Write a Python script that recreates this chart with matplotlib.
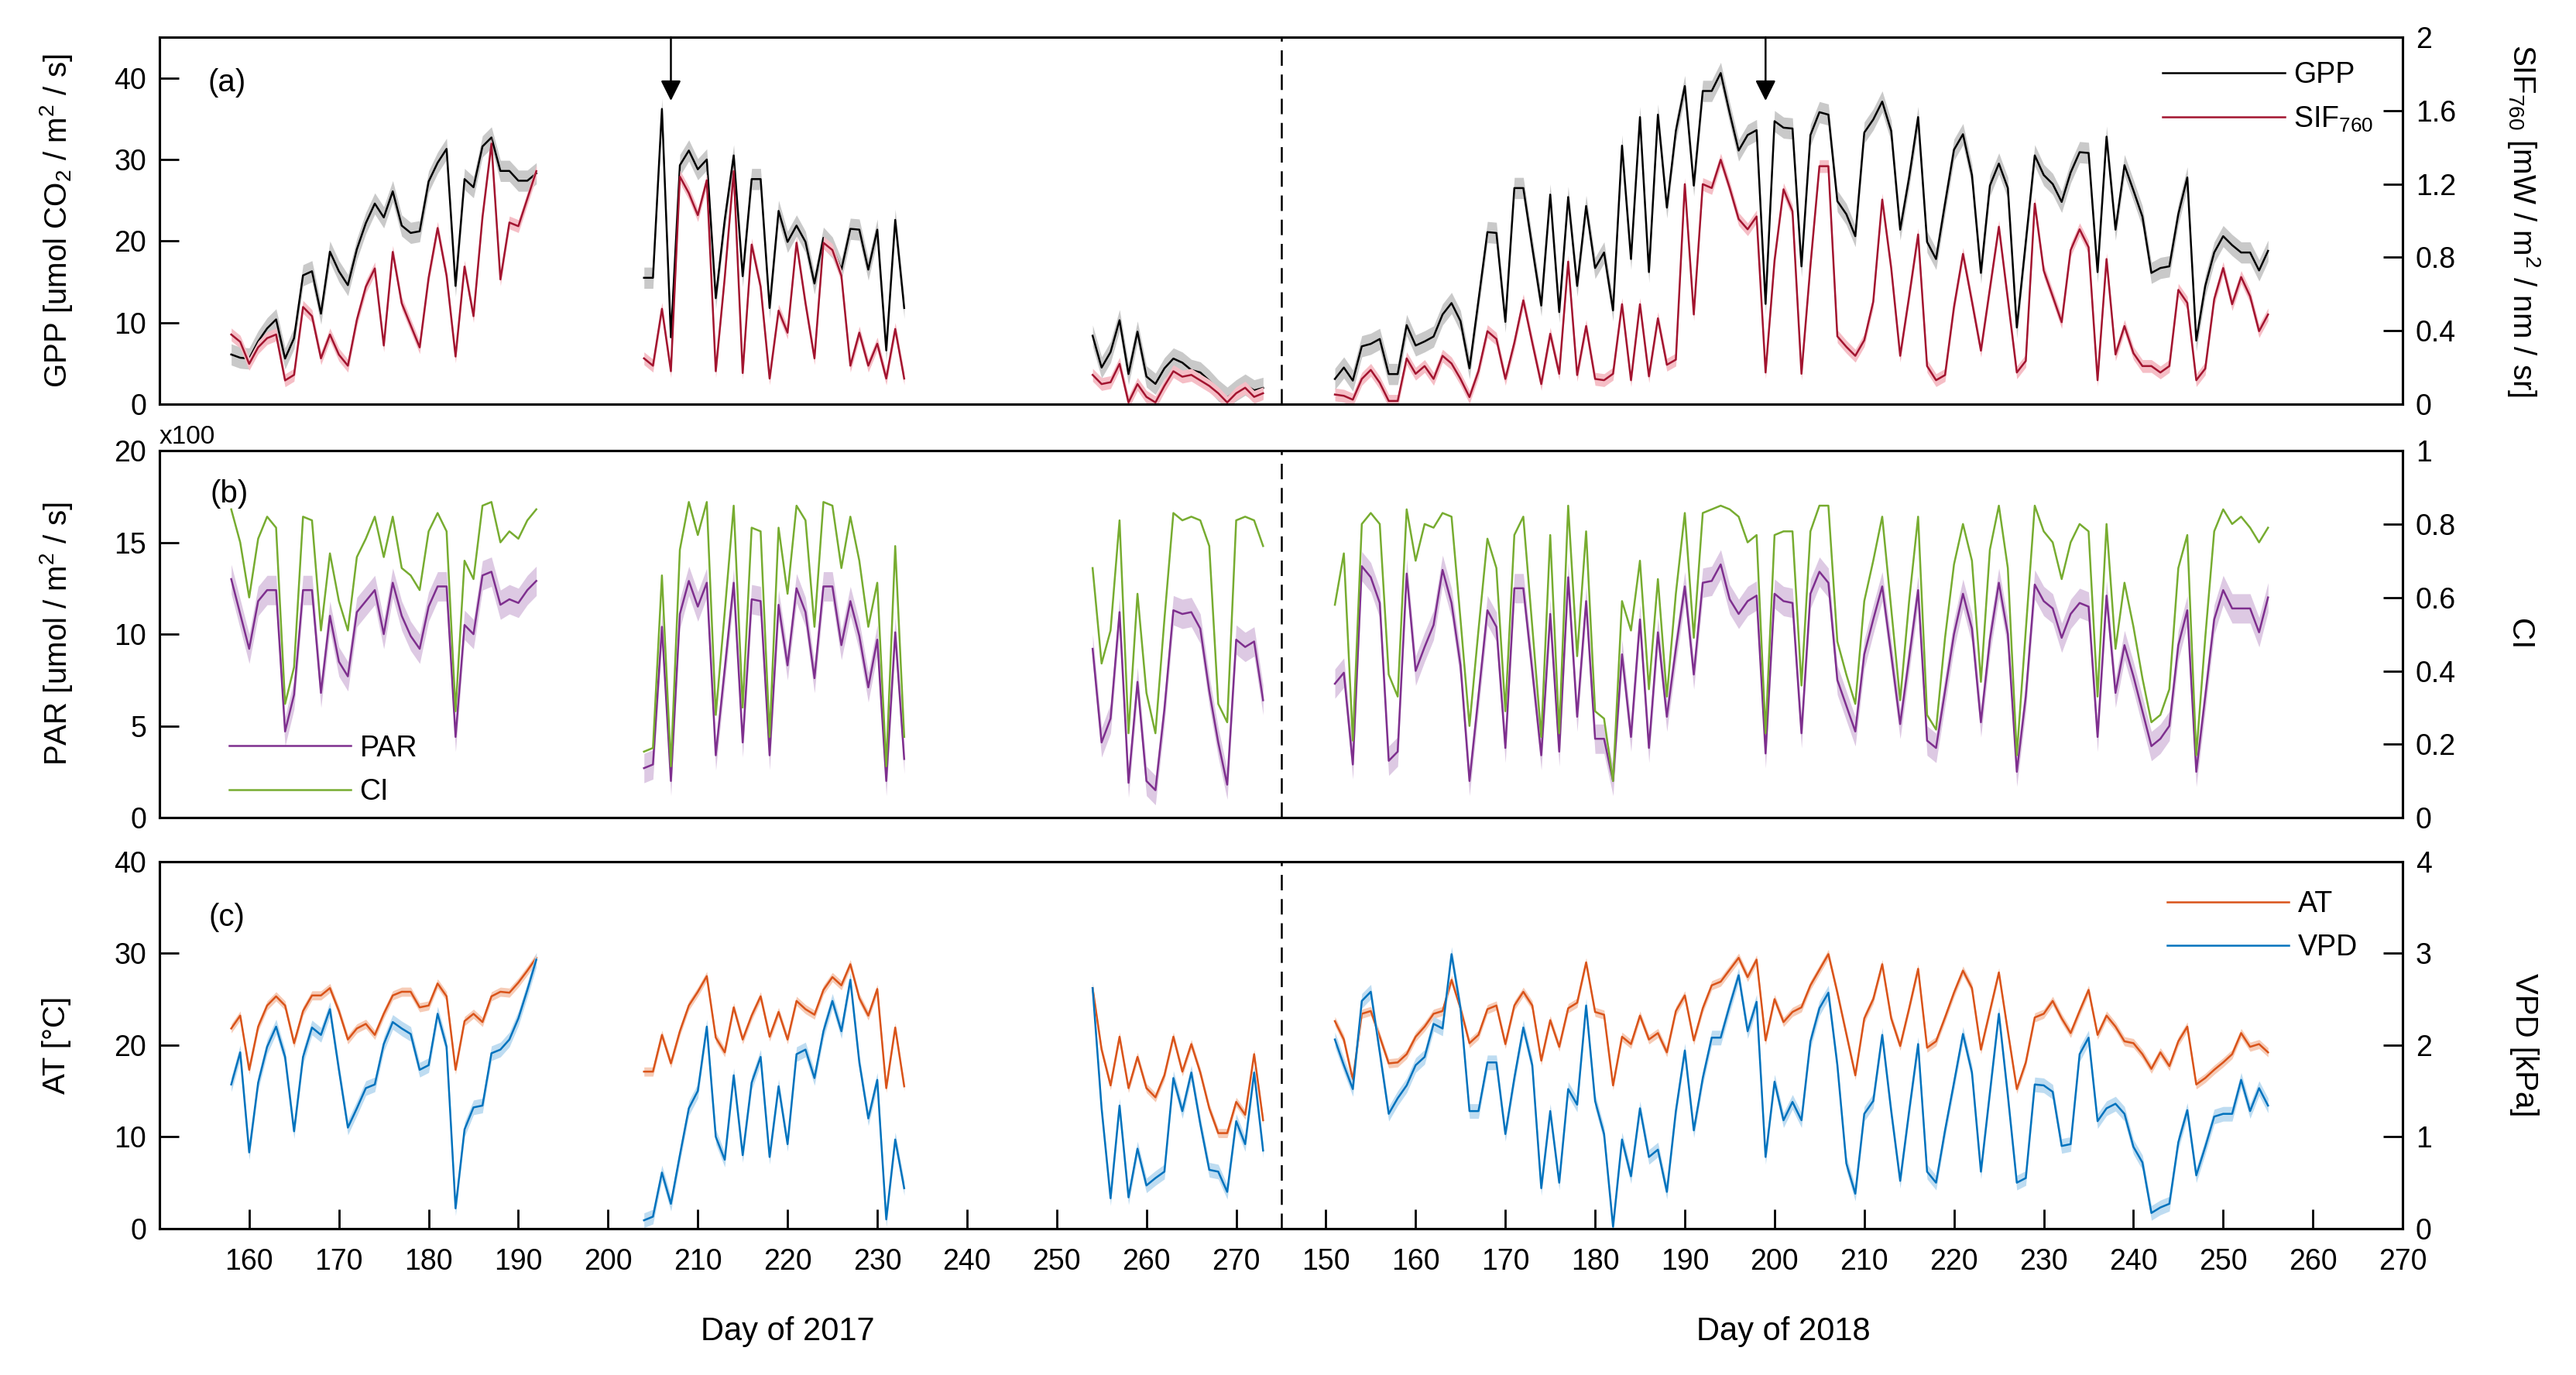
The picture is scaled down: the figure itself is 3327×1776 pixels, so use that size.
import numpy as np
import matplotlib
matplotlib.use("Agg")
import matplotlib.pyplot as plt
from matplotlib.ticker import FormatStrFormatter

plt.rcParams['font.family'] = ['Liberation Sans', 'DejaVu Sans']
plt.rcParams['mathtext.default'] = 'regular'
plt.rcParams['font.size'] = 13

# first day of each block of measurements
starts_2017 = [158, 204, 254]
start_2018 = 151
offset_2018 = 130      # 2018 days are shifted right so both seasons share one axis
year_break = 275
arrow_days = [207, 199 + offset_2018]
arrow_tip = 37.2

# (a) GPP [umol CO2/m2/s] and SIF760 [mW/m2/nm/sr]
gpp_2017 = [
    [6.1, 5.7, 5.6, 7.7, 9.3, 10.4, 5.6, 8.1, 15.8, 16.3, 11.1, 18.7, 16.3, 14.6, 19.0, 22.2, 24.6, 22.9,
     26.1, 21.9, 21.0, 21.2, 27.3, 29.6, 31.3, 14.5, 27.6, 26.6, 31.6, 32.7, 28.6, 28.6, 27.4, 27.4, 28.3],
    [15.5, 15.5, 36.2, 8.2, 29.3, 31.1, 28.8, 30.0, 13.0, 22.6, 30.5, 15.7, 27.6, 27.6, 11.8, 23.7, 19.9,
     21.9, 19.9, 14.8, 20.4, 19.2, 16.5, 21.5, 21.4, 16.5, 21.4, 6.6, 22.6, 11.8],
    [8.4, 4.5, 6.4, 10.3, 3.7, 8.9, 3.4, 2.5, 4.4, 5.6, 5.1, 4.2, 3.9, 2.9, 1.7, 0.8, 1.7, 2.4, 1.7, 2.0],
]
gpp_2018 = [3.1, 4.5, 2.9, 7.1, 7.4, 8.0, 3.7, 3.7, 9.7, 7.2,
            7.7, 8.3, 11.0, 12.4, 10.2, 4.4, 12.7, 21.1, 21.0, 10.1,
            26.5, 26.5, 19.2, 12.1, 25.7, 11.3, 25.4, 14.5, 24.3, 16.7,
            18.6, 11.5, 31.7, 17.8, 35.2, 16.2, 35.5, 24.1, 33.5, 39.0,
            26.8, 38.4, 38.4, 40.6, 35.7, 31.1, 33.0, 33.6, 12.3, 34.7,
            33.9, 33.8, 16.9, 33.0, 35.8, 35.5, 24.9, 23.3, 20.6, 33.3,
            34.9, 37.1, 33.5, 21.4, 27.8, 35.2,
            19.9, 17.8, 24.6, 31.2, 33.1, 28.1, 16.1, 26.8, 29.5, 26.5,
            9.4, 19.9, 30.5, 28.1, 27.0, 24.8, 28.4, 30.9, 30.8, 16.2,
            32.8, 21.4, 29.3, 26.2, 23.0, 16.1, 16.7, 16.9, 23.3, 27.8,
            7.8, 14.5, 18.6, 20.6, 19.5, 18.6, 18.6, 16.4, 18.8]
sif_2017 = [
    [0.38, 0.34, 0.22, 0.31, 0.36, 0.38, 0.13, 0.16, 0.53, 0.48, 0.25, 0.38, 0.27, 0.21, 0.46, 0.64, 0.74,
     0.32, 0.83, 0.55, 0.43, 0.31, 0.69, 0.96, 0.70, 0.26, 0.75, 0.48, 1.02, 1.42, 0.68, 0.99, 0.97, 1.12, 1.27],
    [0.25, 0.21, 0.52, 0.18, 1.24, 1.15, 1.03, 1.22, 0.18, 0.69, 1.27, 0.17, 0.87, 0.64, 0.14, 0.51, 0.39,
     0.88, 0.55, 0.25, 0.88, 0.84, 0.70, 0.21, 0.39, 0.21, 0.33, 0.14, 0.41, 0.14],
    [0.16, 0.11, 0.12, 0.22, 0.01, 0.11, 0.04, 0.01, 0.10, 0.18, 0.15, 0.16, 0.13, 0.10, 0.06, 0.01, 0.06,
     0.09, 0.04, 0.06],
]
sif_2018 = [0.053, 0.046, 0.025, 0.138, 0.187, 0.117, 0.018, 0.018, 0.250, 0.166,
            0.208, 0.138, 0.264, 0.222, 0.138, 0.039, 0.180, 0.398, 0.356, 0.138,
            0.335, 0.566, 0.335, 0.110, 0.384, 0.166, 0.777, 0.159, 0.426, 0.138,
            0.131, 0.166, 0.545, 0.131, 0.545, 0.152, 0.468, 0.215, 0.243, 1.199,
            0.489, 1.199, 1.178, 1.332, 1.178, 1.009, 0.953, 1.023, 0.173, 0.784,
            1.171, 1.051, 0.166, 0.756, 1.297, 1.297, 0.370, 0.313, 0.264, 0.349,
            0.559, 1.115, 0.742, 0.264, 0.588, 0.925,
            0.208, 0.131, 0.159, 0.531, 0.819, 0.559, 0.292, 0.630, 0.967, 0.573,
            0.173, 0.236, 1.093, 0.728, 0.588, 0.447, 0.840, 0.953, 0.855, 0.131,
            0.791, 0.271, 0.426, 0.278, 0.208, 0.208, 0.173, 0.208, 0.623, 0.552,
            0.131, 0.194, 0.573, 0.742, 0.545, 0.693, 0.588, 0.398, 0.489]

# (b) PAR [x100 umol/m2/s] and CI
par_2017 = [
    [13.0, 11.1, 9.2, 11.8, 12.4, 12.4, 4.7, 6.7, 12.4, 12.4, 6.8, 11.0, 8.5, 7.7, 11.2, 11.8, 12.4, 10.0,
     12.8, 11.0, 9.9, 9.2, 11.5, 12.6, 12.6, 4.4, 10.5, 10.0, 13.2, 13.4, 11.6, 11.9, 11.7, 12.4, 12.9],
    [2.7, 2.9, 10.4, 2.0, 11.1, 12.9, 11.5, 12.8, 3.4, 8.1, 12.8, 4.1, 11.9, 11.8, 3.4, 11.6, 8.3, 12.5,
     11.2, 7.6, 12.6, 12.6, 9.4, 11.8, 9.9, 7.1, 9.7, 2.0, 10.1, 3.2],
    [9.2, 4.1, 5.4, 11.2, 1.9, 7.4, 2.0, 1.5, 5.9, 11.3, 11.1, 11.2, 10.3, 6.9, 4.1, 1.8, 9.7, 9.3, 9.6, 6.4],
]
par_2018 = [7.3, 7.9, 2.9, 13.7, 13.1, 11.7, 3.1, 3.6, 13.3, 8.0,
            9.3, 10.5, 13.5, 11.7, 8.3, 2.0, 6.6, 11.3, 10.4, 3.8,
            12.5, 12.5, 8.0, 3.4, 11.1, 3.6, 13.1, 5.5, 11.8, 4.3,
            4.3, 2.0, 8.9, 4.4, 10.8, 3.8, 10.1, 5.5, 9.2, 12.6,
            7.8, 12.8, 12.9, 13.8, 11.9, 11.1, 11.8, 12.1, 3.5, 12.2,
            11.8, 11.7, 4.6, 12.2, 13.4, 12.8, 7.5, 6.1, 4.7, 8.9,
            10.8, 12.6, 8.9, 5.1,
            8.7, 12.4, 4.2, 3.8, 6.9, 10.0, 12.2, 10.3, 5.2, 9.7,
            12.8, 10.0, 2.5, 6.6, 12.7, 11.8, 11.4, 9.8, 11.1, 11.7,
            11.5, 4.4, 12.1, 6.8, 9.4, 7.7, 5.8, 3.9, 4.3, 5.0,
            9.4, 11.3, 2.5, 6.6, 10.8, 12.4, 11.4, 11.4, 11.4, 10.1,
            12.0]
ci_2017 = [
    [0.84, 0.75, 0.60, 0.76, 0.82, 0.79, 0.31, 0.41, 0.82, 0.81, 0.51, 0.72, 0.59, 0.51, 0.71, 0.76, 0.82,
     0.71, 0.82, 0.68, 0.66, 0.62, 0.78, 0.83, 0.78, 0.29, 0.70, 0.65, 0.85, 0.86, 0.75, 0.78, 0.76, 0.81, 0.84],
    [0.18, 0.19, 0.66, 0.14, 0.73, 0.86, 0.77, 0.86, 0.28, 0.56, 0.85, 0.30, 0.79, 0.78, 0.22, 0.79, 0.61,
     0.85, 0.81, 0.52, 0.86, 0.85, 0.68, 0.82, 0.70, 0.52, 0.64, 0.14, 0.74, 0.22],
    [0.68, 0.42, 0.51, 0.81, 0.23, 0.61, 0.34, 0.23, 0.54, 0.83, 0.81, 0.82, 0.81, 0.74, 0.31, 0.26, 0.81,
     0.82, 0.81, 0.74],
]
ci_2018 = [0.58, 0.72, 0.21, 0.80, 0.83, 0.80, 0.39, 0.33, 0.84, 0.70,
           0.80, 0.79, 0.83, 0.82, 0.54, 0.25, 0.51, 0.76, 0.68, 0.29,
           0.77, 0.82, 0.52, 0.22, 0.77, 0.23, 0.85, 0.44, 0.78, 0.29,
           0.27, 0.10, 0.59, 0.51, 0.70, 0.35, 0.65, 0.33, 0.61, 0.83,
           0.49, 0.83, 0.84, 0.85, 0.84, 0.82, 0.75, 0.77, 0.23, 0.77,
           0.78, 0.78, 0.36, 0.78, 0.85, 0.85, 0.48, 0.39, 0.31, 0.59,
           0.70, 0.82, 0.57, 0.32,
           0.59, 0.82, 0.28, 0.24, 0.49, 0.69, 0.80, 0.70, 0.37, 0.73,
           0.85, 0.68, 0.17, 0.51, 0.85, 0.78, 0.75, 0.65, 0.75, 0.80,
           0.78, 0.33, 0.80, 0.46, 0.64, 0.52, 0.38, 0.26, 0.28, 0.35,
           0.68, 0.77, 0.17, 0.49, 0.78, 0.84, 0.80, 0.82, 0.79, 0.75,
           0.79]

# (c) air temperature [C] and VPD [kPa]
at_2017 = [
    [21.8, 23.2, 17.3, 22.0, 24.3, 25.3, 24.3, 20.2, 23.7, 25.4, 25.4, 26.2, 23.7, 20.6, 21.8, 22.3, 21.1,
     23.4, 25.4, 25.8, 25.8, 24.1, 24.3, 26.7, 25.3, 17.3, 22.6, 23.4, 22.5, 25.3, 25.8, 25.7, 26.8, 28.1, 29.5],
    [17.1, 17.1, 21.1, 18.0, 21.5, 24.3, 25.8, 27.5, 20.8, 19.2, 24.1, 20.6, 23.2, 25.3, 20.9, 23.6, 20.6,
     24.8, 23.9, 23.3, 26.0, 27.4, 26.5, 28.8, 25.1, 23.2, 26.1, 15.3, 21.9, 15.5],
    [26.2, 19.5, 15.6, 20.9, 15.3, 18.7, 15.3, 14.3, 16.7, 20.9, 17.1, 20.1, 17.0, 13.1, 10.4, 10.4, 13.8,
     12.4, 19.0, 11.8],
]
at_2018 = [22.6, 20.6, 16.2, 23.4, 23.7, 20.9, 18.0, 18.1, 19.0, 20.9,
           22.0, 23.4, 23.7, 27.1, 24.0, 20.2, 21.1, 23.9, 24.3, 20.1,
           24.3, 25.8, 24.3, 18.3, 22.7, 19.8, 24.0, 24.6, 29.0, 23.6,
           23.3, 15.6, 20.9, 20.1, 23.2, 20.6, 21.3, 19.2, 23.7, 25.4,
           20.5, 24.0, 26.5, 26.9, 28.2, 29.5, 27.4, 29.3, 20.5, 25.0,
           22.5, 23.6, 24.1, 26.5, 28.2, 29.9, 25.7, 21.2, 16.7, 22.9,
           25.0, 28.8, 22.9, 19.9, 24.0, 28.3, 19.7, 20.4, 23.0, 25.7,
           28.1, 26.2, 19.5, 23.7, 27.9, 21.5, 15.2, 18.1, 23.0, 23.4,
           24.8, 22.9, 21.3, 23.7, 26.0, 21.1, 23.2, 22.0, 20.4, 20.2,
           19.0, 17.4, 19.2, 17.7, 20.4, 22.0, 15.7, 16.4, 17.3, 18.1,
           19.0, 21.3, 19.8, 20.1, 19.2]
vpd_2017 = [
    [1.57, 1.92, 0.83, 1.59, 1.98, 2.20, 1.87, 1.06, 1.87, 2.19, 2.11, 2.39, 1.73, 1.10, 1.31, 1.53, 1.57,
     2.01, 2.25, 2.18, 2.12, 1.73, 1.78, 2.34, 1.98, 0.22, 1.08, 1.32, 1.34, 1.91, 1.95, 2.06, 2.29, 2.60, 2.93],
    [0.09, 0.13, 0.61, 0.27, 0.80, 1.31, 1.50, 2.20, 1.00, 0.75, 1.67, 0.80, 1.59, 1.87, 0.78, 1.55, 0.92,
     1.90, 1.95, 1.64, 2.15, 2.48, 2.15, 2.71, 1.81, 1.20, 1.62, 0.10, 0.97, 0.44],
    [2.62, 1.31, 0.33, 1.34, 0.34, 0.87, 0.47, 0.55, 0.62, 1.64, 1.28, 1.70, 1.14, 0.64, 0.62, 0.40, 1.17,
     0.92, 1.70, 0.85],
]
vpd_2018 = [2.06, 1.78, 1.52, 2.48, 2.58, 1.92, 1.25, 1.42, 1.56, 1.78,
            1.87, 2.23, 2.18, 2.99, 2.40, 1.28, 1.28, 1.81, 1.81, 1.03,
            1.64, 2.19, 1.78, 0.44, 1.28, 0.50, 1.52, 1.35, 2.43, 1.39,
            1.03, 0.02, 0.97, 0.57, 1.31, 0.78, 0.86, 0.40, 1.28, 1.94,
            1.07, 1.64, 2.08, 2.08, 2.43, 2.76, 2.15, 2.47, 0.78, 1.60,
            1.18, 1.38, 1.18, 2.04, 2.40, 2.57, 1.78, 0.71, 0.38, 1.25,
            1.39, 2.11, 1.28, 0.52, 1.28, 2.01, 0.62, 0.50, 1.07, 1.59,
            2.12, 1.70, 0.62, 1.48, 2.34, 1.45, 0.50, 0.55, 1.57, 1.56,
            1.49, 0.90, 0.92, 1.90, 2.08, 1.17, 1.31, 1.36, 1.25, 0.89,
            0.72, 0.17, 0.23, 0.27, 0.94, 1.29, 0.58, 0.89, 1.22, 1.25,
            1.25, 1.62, 1.28, 1.53, 1.34]

# half width of the shaded spread around each series
gpp_err, sif_err, par_err, at_err, vpd_err = 1.3, 0.035, 0.8, 0.5, 0.08

tick_pos = list(range(160, 271, 10)) + list(range(150 + offset_2018, 271 + offset_2018, 10))
tick_lab = [str(d) for d in range(160, 271, 10)] + [str(d) for d in range(150, 271, 10)]


def segments(v2017, v2018):
    out = [(np.arange(len(v)) + s, np.array(v)) for v, s in zip(v2017, starts_2017)]
    out.append((np.arange(len(v2018)) + start_2018 + offset_2018, np.array(v2018)))
    return out


def draw(ax, v2017, v2018, color, band=None, err=0.0, label=None):
    for x, y in segments(v2017, v2018):
        if band is not None:
            ax.fill_between(x, y - err, y + err, color=band, lw=0)
        line, = ax.plot(x, y, color=color, lw=0.9)
    line.set_label(label)
    return line


def style(ax, ax2, yl, yticks, yl2, yticks2):
    ax.set_xlim(150, 400)
    ax.set_ylim(*yl)
    ax.set_yticks(yticks)
    ax2.set_ylim(*yl2)
    ax2.set_yticks(yticks2)
    ax2.yaxis.set_major_formatter(FormatStrFormatter('%g'))
    for a in (ax, ax2):
        a.tick_params(direction='in', length=9, width=1, labelsize=13.5, pad=6)
        for sp in a.spines.values():
            sp.set_linewidth(1.1)
    ax.tick_params(axis='y', right=False)
    ax.axvline(year_break, color='k', lw=0.9, ls=(0, (8, 4.5)))


fig = plt.figure(figsize=(16.635, 8.88), dpi=200)
left, width, height = 0.0619, 0.8708, 0.267
bottoms = [0.706, 0.4053, 0.1065]
lab_size = 14.5

# ---- (a) ----
ax_a = fig.add_axes([left, bottoms[0], width, height])
ax_a2 = ax_a.twinx()
l_gpp = draw(ax_a, gpp_2017, gpp_2018, 'black', '#c9c9c9', gpp_err, 'GPP')
l_sif = draw(ax_a2, sif_2017, sif_2018, '#A2142F', '#F5BEC6', sif_err, 'SIF$_{760}$')
style(ax_a, ax_a2, (0, 45), [0, 10, 20, 30, 40], (0, 2), [0, 0.4, 0.8, 1.2, 1.6, 2])
ax_a.set_xticks([])
for xa in arrow_days:
    ax_a.annotate('', xy=(xa, arrow_tip), xytext=(xa, 45),
                  arrowprops=dict(arrowstyle='-|>', color='k', lw=0.9, mutation_scale=20,
                                  shrinkA=0, shrinkB=0))
ax_a.set_ylabel('GPP [umol CO$_2$ / m$^2$ / s]', fontsize=lab_size, va='center', ha='center')
ax_a.yaxis.set_label_coords(-0.046, 0.5)
ax_a2.set_ylabel('SIF$_{760}$ [mW / m$^2$ / nm / sr]', fontsize=lab_size, rotation=270,
                 va='center', ha='center')
ax_a2.yaxis.set_label_coords(1.054, 0.5)
ax_a.text(0.030, 0.876, '(a)', transform=ax_a.transAxes, fontsize=14.5, ha='center', va='center')
ax_a2.legend(handles=[l_gpp, l_sif], loc='upper left', bbox_to_anchor=(0.893, 0.935), frameon=False,
             fontsize=13.5, handlelength=4.2, handletextpad=0.3, labelspacing=0.55, borderpad=0,
             borderaxespad=0)

# ---- (b) ----
ax_b = fig.add_axes([left, bottoms[1], width, height])
ax_b2 = ax_b.twinx()
l_par = draw(ax_b, par_2017, par_2018, '#7E2F8E', '#DDC9E3', par_err, 'PAR')
l_ci = draw(ax_b2, ci_2017, ci_2018, '#77AC30', None, 0, 'CI')
style(ax_b, ax_b2, (0, 20), [0, 5, 10, 15, 20], (0, 1), [0, 0.2, 0.4, 0.6, 0.8, 1])
ax_b.set_xticks([])
ax_b.text(0.0, 1.005, 'x100', transform=ax_b.transAxes, fontsize=12, ha='left', va='bottom')
ax_b.set_ylabel('PAR [umol / m$^2$ / s]', fontsize=lab_size, va='center', ha='center')
ax_b.yaxis.set_label_coords(-0.046, 0.5)
ax_b2.set_ylabel('CI', fontsize=lab_size, rotation=270, va='center', ha='center')
ax_b2.yaxis.set_label_coords(1.052, 0.5)
ax_b.text(0.031, 0.882, '(b)', transform=ax_b.transAxes, fontsize=14.5, ha='center', va='center')
ax_b2.legend(handles=[l_par, l_ci], loc='upper left', bbox_to_anchor=(0.031, 0.227), frameon=False,
             fontsize=13.5, handlelength=4.2, handletextpad=0.3, labelspacing=0.55, borderpad=0,
             borderaxespad=0)

# ---- (c) ----
ax_c = fig.add_axes([left, bottoms[2], width, height])
ax_c2 = ax_c.twinx()
l_at = draw(ax_c, at_2017, at_2018, '#D95319', '#F6CBB6', at_err, 'AT')
l_vpd = draw(ax_c2, vpd_2017, vpd_2018, '#0072BD', '#BEDCF1', vpd_err, 'VPD')
style(ax_c, ax_c2, (0, 40), [0, 10, 20, 30, 40], (0, 4), [0, 1, 2, 3, 4])
ax_c.set_xticks(tick_pos)
ax_c.set_xticklabels(tick_lab)
ax_c.tick_params(axis='x', top=False, pad=9)
ax_c.set_ylabel('AT [°C]', fontsize=lab_size, va='center', ha='center')
ax_c.yaxis.set_label_coords(-0.046, 0.5)
ax_c2.set_ylabel('VPD [kPa]', fontsize=lab_size, rotation=270, va='center', ha='center')
ax_c2.yaxis.set_label_coords(1.054, 0.5)
ax_c.text(0.030, 0.848, '(c)', transform=ax_c.transAxes, fontsize=14.5, ha='center', va='center')
ax_c2.legend(handles=[l_at, l_vpd], loc='upper left', bbox_to_anchor=(0.895, 0.922), frameon=False,
             fontsize=13.5, handlelength=4.2, handletextpad=0.3, labelspacing=0.55, borderpad=0,
             borderaxespad=0)

xlab = ax_c.get_xaxis_transform()
ax_c.text(220, -0.28, 'Day of 2017', transform=xlab, fontsize=15, ha='center', va='center')
ax_c.text(331, -0.28, 'Day of 2018', transform=xlab, fontsize=15, ha='center', va='center')

fig.savefig('out.png', dpi=200)
